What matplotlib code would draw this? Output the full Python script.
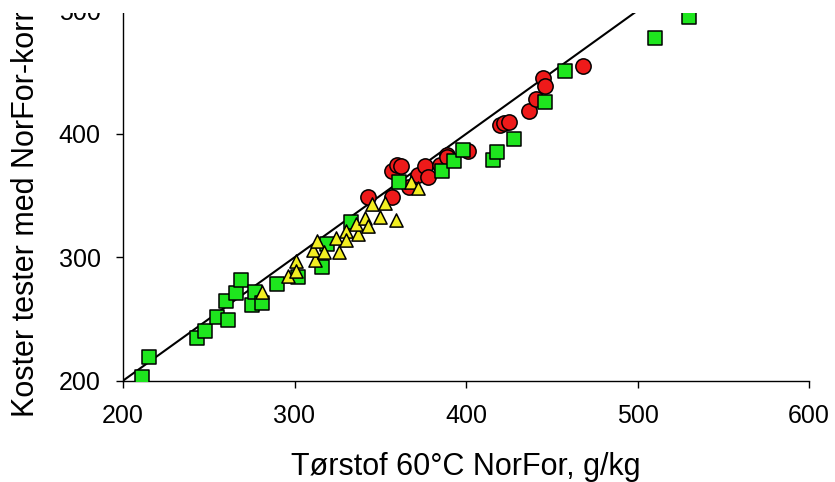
import matplotlib
matplotlib.use("Agg")
import matplotlib.pyplot as plt
from matplotlib.patches import Rectangle

plt.rcParams['font.family'] = ['Liberation Sans', 'DejaVu Sans']

# Green squares
green_x = [211, 215, 243, 248, 255, 261, 260, 266, 269, 275, 277, 281, 290, 302, 316, 319,
           333, 361, 386, 393, 398, 416, 418, 428, 446, 458, 510, 530]
green_y = [203, 219, 235, 240, 252, 249, 265, 271, 282, 261, 272, 263, 278, 284, 292, 311,
           329, 361, 370, 378, 387, 379, 385, 396, 426, 451, 478, 495]

# Red circles
red_x = [343, 357, 357, 360, 362, 367, 372, 376, 378, 385, 389, 389, 401,
         420, 422, 425, 437, 441, 445, 446, 468]
red_y = [349, 349, 370, 375, 374, 357, 367, 374, 365, 375, 383, 381, 386,
         407, 409, 410, 419, 428, 445, 439, 455]

# Yellow triangles
yellow_x = [281, 296, 301, 301, 312, 311, 313, 317, 324, 326, 330, 330, 337, 336,
            341, 343, 345, 350, 353, 359, 368, 372]
yellow_y = [272, 285, 297, 289, 298, 306, 313, 304, 316, 304, 321, 314, 319, 327,
            332, 325, 343, 333, 344, 330, 361, 356]

ref_line = [200, 500]
x_ticks = [200, 300, 400, 500, 600]
y_ticks = [200, 300, 400, 500]

W, H = 835, 482
fig = plt.figure(figsize=(W / 100, H / 100), dpi=100)
left, right = 123 / W, 809 / W
bottom, top = 1 - 380.7 / H, 1 - 10.6 / H
ax = fig.add_axes([left, bottom, right - left, top - bottom])

ax.plot(ref_line, ref_line, color='black', lw=1.5, zorder=1)
ax.scatter(red_x, red_y, marker='o', s=11 ** 2, c='#ee1a1a', edgecolors='black',
           linewidths=1.1, zorder=2)
ax.scatter(green_x, green_y, marker='s', s=9.5 ** 2, c='#1ee61e', edgecolors='black',
           linewidths=1.1, zorder=3)
ax.scatter(yellow_x, yellow_y, marker='^', s=9.5 ** 2, c='#f2ee22', edgecolors='black',
           linewidths=1.1, zorder=4)

ax.set_xlim(200, 600)
ax.set_ylim(200, 500)
ax.set_xticks(x_ticks)
ax.set_yticks(y_ticks)
for s in ['top', 'right']:
    ax.spines[s].set_visible(False)
for s in ['left', 'bottom']:
    ax.spines[s].set_linewidth(1.0)
ax.tick_params(axis='both', direction='out', length=5, width=1.0, labelsize=18,
               colors='black')
ax.tick_params(axis='x', pad=12)
ax.tick_params(axis='y', pad=11)

fig.text(0.5 * (left + right), 1 - 475 / H, 'Tørstof 60°C NorFor, g/kg',
         ha='center', va='baseline', fontsize=22)
fig.text(34 / W, 1 - 417 / H, 'Koster tester med NorFor-korrigeret TS, g/kg',
         rotation=90, rotation_mode='anchor', ha='left', va='baseline', fontsize=22)

fig.add_artist(Rectangle((0, 1 - 13 / H), 1, 13 / H, transform=fig.transFigure,
                         facecolor='white', edgecolor='none', zorder=100))

fig.savefig('out.png', dpi=100, facecolor='white')
